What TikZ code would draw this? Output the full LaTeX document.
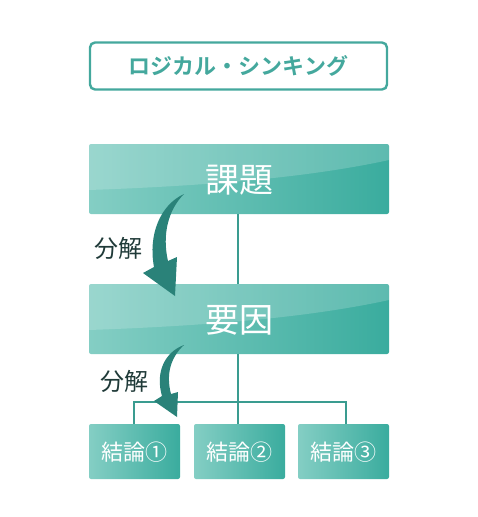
\documentclass[tikz,border=0pt]{standalone}
\usepackage{fontspec}
\setmainfont{Noto Sans CJK JP}
\newfontfamily\jpbold{Noto Sans CJK JP Bold}
\usetikzlibrary{calc}
\definecolor{tealL}{HTML}{84CEC4}
\definecolor{tealR}{HTML}{3AAC9E}
\definecolor{tealLine}{HTML}{3A9C90}
\definecolor{tealTitle}{HTML}{44A89D}
\definecolor{arrowC}{HTML}{2A8279}
\definecolor{txtDark}{HTML}{1F3A38}
\tikzset{
  x=1pt,y=-1pt,
  tbox/.style={draw=none, rounded corners=2pt, left color=tealL, right color=tealR, shading angle=90},
  conn/.style={draw=tealLine, line width=1.6pt},
  bigtxt/.style={text=white, font=\fontsize{34}{36}\selectfont},
  smalltxt/.style={text=white, font=\fontsize{22}{24}\selectfont},
  lbl/.style={text=txtDark, font=\fontsize{24}{26}\selectfont},
  curarrow/.style={fill=arrowC, draw=none},
}
\begin{document}
\begin{tikzpicture}
\useasboundingbox (0,0) rectangle (478,517);
% title
\node[draw=tealTitle, line width=2.4pt, rounded corners=5pt, minimum width=297pt, minimum height=47pt, inner sep=0pt, text=tealTitle, font=\jpbold\fontsize{22}{24}\selectfont] (title) at (238.5,66) {ロジカル・シンキング};
% connectors
\coordinate (j) at (238,402);
\coordinate (jl) at (134,402);
\coordinate (jr) at (346,402);
% boxes
\path[tbox] (89,144) rectangle (389,214);
\path[fill=white, opacity=0.18] (89,144) -- (389,144) -- (389,160) .. controls (320,175) and (230,185) .. (89,190) -- cycle;
\node[bigtxt] (kadai) at (239,180) {課題};
\path[tbox] (89,284) rectangle (389,354);
\path[fill=white, opacity=0.18] (89,284) -- (389,284) -- (389,300) .. controls (320,315) and (230,325) .. (89,330) -- cycle;
\node[bigtxt] (youin) at (239,320) {要因};
\path[tbox] (89,424) rectangle (180,479);
\node[smalltxt] (k1) at (134.5,452) {結論①};
\path[tbox] (194,424) rectangle (285,479);
\node[smalltxt] (k2) at (239.5,452) {結論②};
\path[tbox] (298,424) rectangle (389,479);
\node[smalltxt] (k3) at (343.5,452) {結論③};
% nodes for lines
\coordinate (b1) at (238,214);
\coordinate (t2) at (238,284);
\coordinate (b2) at (238,354);
\coordinate (t31) at (134,424);
\coordinate (t32) at (238,424);
\coordinate (t33) at (346,424);
\draw[conn] (b1) -- (t2);
\draw[conn] (b2) -- (t32);
\draw[conn] (t31) -- (jl) -- (jr) -- (t33);
% curved arrows
\path[curarrow] (184,194) .. controls (160,205) and (148,235) .. (154,267) -- (143,273) -- (175,296) -- (177,257) -- (168,261) .. controls (162,235) and (168,210) .. (184,194) -- cycle;
\path[curarrow] (184,345) .. controls (165,352) and (155,372) .. (162,396) -- (154,401) -- (177,417) -- (178,392) -- (171,394) .. controls (166,375) and (170,358) .. (184,345) -- cycle;
% labels
\node[lbl] (d1) at (118,248) {分解};
\node[lbl] (d2) at (124,381) {分解};
\end{tikzpicture}
\end{document}
